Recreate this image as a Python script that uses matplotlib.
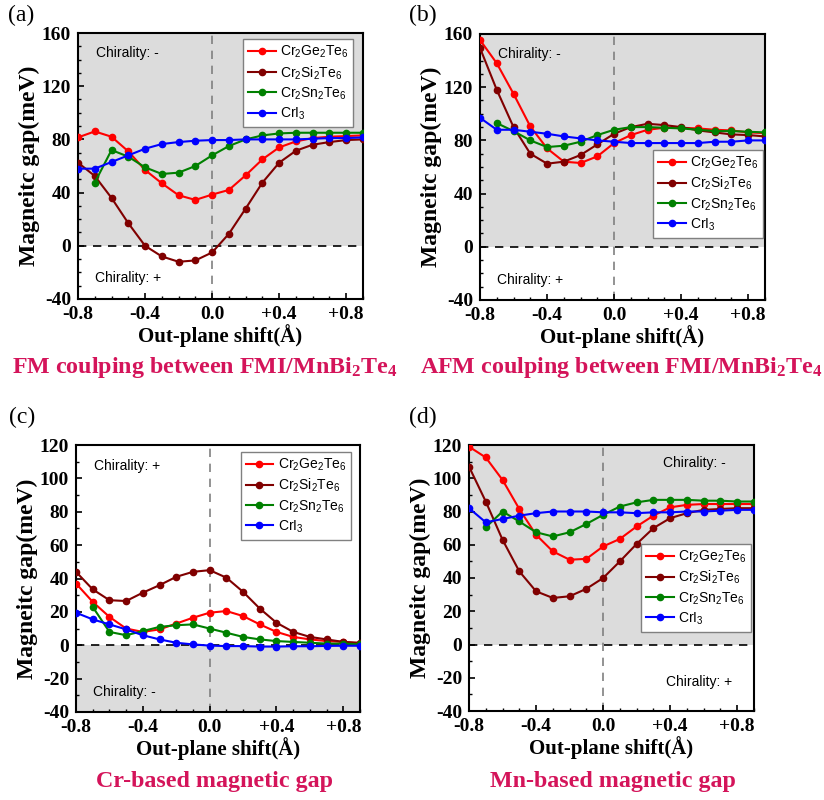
import numpy as np
import matplotlib
matplotlib.use("Agg")
import matplotlib.pyplot as plt
from matplotlib.ticker import MultipleLocator, FixedLocator, FixedFormatter

plt.rcParams['axes.unicode_minus'] = False

# ---------------- data ----------------
x_all = [-0.8, -0.7, -0.6, -0.5, -0.4, -0.3, -0.2, -0.1, 0.0,
         0.1, 0.2, 0.3, 0.4, 0.5, 0.6, 0.7, 0.8, 0.9]
x_sn = x_all[1:]

series_names = [r'$\mathregular{Cr_2Ge_2Te_6}$', r'$\mathregular{Cr_2Si_2Te_6}$',
                r'$\mathregular{Cr_2Sn_2Te_6}$', r'$\mathregular{CrI_3}$']

# (a) FM coupling
a_ge = [81.5, 86, 82, 71, 57, 47, 38, 34.5, 38.5, 42, 53, 65, 74, 78.5, 81, 82, 82.5, 83]
a_si = [62.5, 52.5, 36, 17, 0, -8, -12, -11, -5, 9, 28, 47.5, 62.5, 71.5, 76, 78, 79.5, 80]
a_sn = [47.5, 72, 67, 59, 54, 55, 60, 68, 75, 80, 83, 84.5, 85, 85, 85, 85, 85]
a_cri = [58, 58, 63, 68, 73, 76.5, 78, 79, 79.5, 79.5, 80, 80, 80, 80, 80.5, 81, 81, 81.5]

# (b) AFM coupling
b_ge = [155.5, 138, 115, 90.5, 74, 64, 63, 68, 78, 84, 88, 89.5, 89.5, 89, 88, 87.5, 86, 85.5]
b_si = [149.5, 118, 90, 70, 62.5, 64, 69, 77, 85, 90, 92.5, 91.5, 90, 87.5, 86, 84.5, 84, 83]
b_sn = [93, 87, 80, 75, 76, 79, 84, 88, 90, 90, 89.5, 89, 88, 87, 87, 86.5, 86]
b_cri = [97, 88, 88, 86.5, 85, 83, 81.5, 80, 79, 78, 78, 78, 78, 78, 79, 79, 80, 80]

# (c) Cr-based gap
c_ge = [37, 26, 17, 10, 8, 9.5, 13, 16.5, 19.5, 20.5, 17.5, 12.5, 8, 5, 3.5, 2.5, 2, 1]
c_si = [44, 33.5, 27, 26.5, 31.5, 36, 41, 44, 45, 40.5, 32, 22, 13.5, 8, 5, 3.5, 2, 1.5]
c_sn = [23, 8, 6, 8.5, 11, 12, 12.5, 10, 7.5, 5, 3.5, 2.5, 2, 1.5, 1, 1, 0.5]
c_cri = [19.5, 15.5, 12.5, 9.5, 6, 3.5, 1.5, 0.5, -0.2, -0.5, -0.5, -0.8, -0.8, -0.6, -0.6, -0.4, -0.3, -0.3]

# (d) Mn-based gap
d_ge = [119, 112.5, 99, 81.5, 66, 56, 51, 51.5, 59, 63.5, 71, 77.5, 82.5, 84, 84.5, 84.5, 84.5, 84.5]
d_si = [107, 86, 63, 44, 32, 28, 29, 33.5, 40, 50, 60.5, 70, 76, 79, 81, 81.5, 82, 82]
d_sn = [70.5, 80, 74, 67.5, 65, 67.5, 72.5, 78, 83, 85.5, 87, 87, 87, 86.5, 86.5, 86, 86]
d_cri = [82, 73.5, 75.5, 77.5, 79, 80, 80, 80, 79.5, 79.5, 79, 79.5, 79.5, 80, 80, 80.5, 81, 81]

x_ticks = [-0.8, -0.4, 0.0, 0.4, 0.8]
x_ticklabels = ['-0.8', '-0.4', '0.0', '+0.4', '+0.8']

captions = [r'FM coulping between FMI/MnBi$\mathregular{_2}$Te$\mathregular{_4}$',
            r'AFM coulping between FMI/MnBi$\mathregular{_2}$Te$\mathregular{_4}$',
            'Cr-based magnetic gap',
            'Mn-based magnetic gap']
panel_labels = ['(a)', '(b)', '(c)', '(d)']

colors = ['#ff0000', '#800000', '#008000', '#0000ff']
SERIF = 'Liberation Serif'
SANS = 'Liberation Sans'

W, H = 824, 800
fig = plt.figure(figsize=(W / 100, H / 100), dpi=100)


def px_axes(l, t, r, b):
    return fig.add_axes([l / W, 1 - b / H, (r - l) / W, (b - t) / H])


panels = [
    dict(rect=(78, 33, 363, 299), ylim=(-40, 160), ymaj=40, ymin=10,
         data=[(x_all, a_ge), (x_all, a_si), (x_sn, a_sn), (x_all, a_cri)],
         shade='pos', chir=[(-0.69, 145, 'Chirality: -'), (-0.70, -24, 'Chirality: +')],
         leg=(0.58, 0.977), lab=(8, 5), cap=(205, 368)),
    dict(rect=(480, 34, 765, 300), ylim=(-40, 160), ymaj=40, ymin=10,
         data=[(x_all, b_ge), (x_all, b_si), (x_sn, b_sn), (x_all, b_cri)],
         shade='pos', chir=[(-0.69, 145, 'Chirality: -'), (-0.70, -25, 'Chirality: +')],
         leg=(0.607, 0.564), lab=(409, 5), cap=(621, 368)),
    dict(rect=(76, 445, 360, 712), ylim=(-40, 120), ymaj=20, ymin=10,
         data=[(x_all, c_ge), (x_all, c_si), (x_sn, c_sn), (x_all, c_cri)],
         shade='neg', chir=[(-0.69, 107.5, 'Chirality: +'), (-0.70, -28, 'Chirality: -')],
         leg=(0.58, 0.974), lab=(9, 407), cap=(215, 782)),
    dict(rect=(469, 445, 754, 711), ylim=(-40, 120), ymaj=20, ymin=10,
         data=[(x_all, d_ge), (x_all, d_si), (x_sn, d_sn), (x_all, d_cri)],
         shade='pos', chir=[(0.36, 109, 'Chirality: -'), (0.375, -22.5, 'Chirality: +')],
         leg=(0.604, 0.628), lab=(409, 407), cap=(613, 782)),
]

for i, p in enumerate(panels):
    ax = px_axes(*p['rect'])
    ymin_, ymax_ = p['ylim']
    ax.set_xlim(-0.8, 0.9)
    ax.set_ylim(ymin_, ymax_)
    if p['shade'] == 'pos':
        ax.axhspan(0, ymax_, color='#dcdcdc', zorder=0, lw=0)
    else:
        ax.axhspan(ymin_, 0, color='#dcdcdc', zorder=0, lw=0)
    ax.axhline(0, color='black', ls=(0, (5, 4)), lw=1.2, zorder=1)
    ax.axvline(0, color='#808080', ls=(0, (5, 4)), lw=1.2, zorder=1)

    for (xs, ys), c, name in zip(p['data'], colors, series_names):
        ax.plot(xs, ys, '-o', color=c, lw=1.5, ms=4.5, label=name, zorder=3)

    for (tx, ty, s) in p['chir']:
        ax.text(tx, ty, s, family=SANS, fontsize=10, va='center', ha='left')

    ax.xaxis.set_major_locator(FixedLocator(x_ticks))
    ax.xaxis.set_major_formatter(FixedFormatter(x_ticklabels))
    ax.xaxis.set_minor_locator(MultipleLocator(0.1))
    ax.yaxis.set_major_locator(MultipleLocator(p['ymaj']))
    ax.yaxis.set_minor_locator(MultipleLocator(p['ymin']))
    ax.tick_params(which='both', direction='in', top=False, right=False)
    ax.tick_params(which='major', length=4, width=1.2, pad=5)
    ax.tick_params(which='minor', length=2.5, width=1.0)
    for lbl in ax.get_xticklabels() + ax.get_yticklabels():
        lbl.set_fontfamily(SERIF)
        lbl.set_fontweight('bold')
        lbl.set_fontsize(14)
    for sp in ax.spines.values():
        sp.set_linewidth(1.5)

    ax.set_xlabel('Out-plane shift(Å)', family=SERIF, weight='bold', fontsize=15, labelpad=1)
    ax.set_ylabel('Magneitc gap(meV)', family=SERIF, weight='bold', fontsize=17, labelpad=1)

    leg = ax.legend(loc='upper left', bbox_to_anchor=p['leg'], borderaxespad=0,
                    prop={'family': SANS, 'size': 10}, frameon=True, fancybox=False,
                    edgecolor='#808080', framealpha=1, handlelength=2.0,
                    handletextpad=0.3, labelspacing=0.27, borderpad=0.35)
    leg.get_frame().set_linewidth(1.0)

    fig.text(p['lab'][0] / W, 1 - p['lab'][1] / H, panel_labels[i], family=SERIF,
             fontsize=17, ha='left', va='top')
    fig.text(p['cap'][0] / W, 1 - p['cap'][1] / H, captions[i], family=SERIF,
             weight='bold', fontsize=17.3, color='#d4145a', ha='center', va='center')

fig.savefig('out.png', dpi=100)
